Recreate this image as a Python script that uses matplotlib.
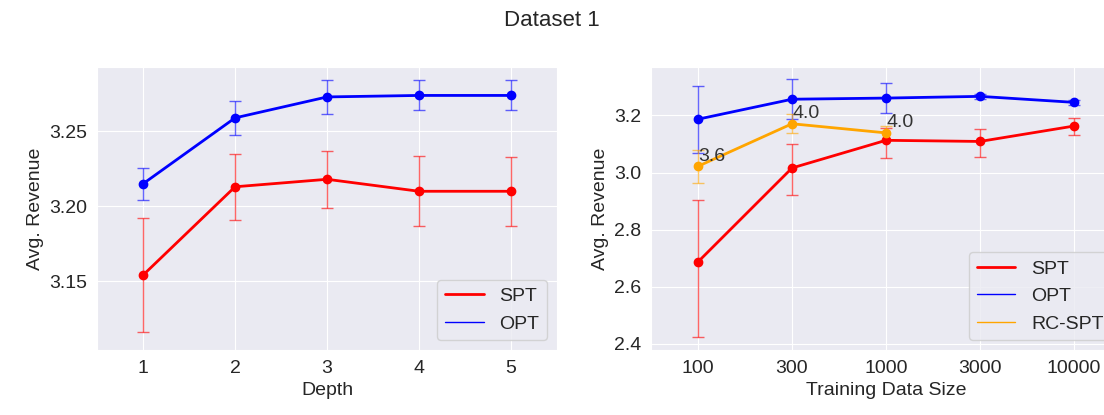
import matplotlib
matplotlib.use("Agg")
import matplotlib.pyplot as plt
import seaborn as sns
import numpy as np
from matplotlib.lines import Line2D

sns.set_style("darkgrid")
plt.rcParams['font.family'] = ['Liberation Sans', 'DejaVu Sans']

# left panel: depth
depth = [1, 2, 3, 4, 5]
spt_depth = [3.154, 3.213, 3.218, 3.210, 3.210]
spt_depth_err = [0.038, 0.022, 0.019, 0.0235, 0.023]
opt_depth = [3.215, 3.259, 3.273, 3.274, 3.274]
opt_depth_err = [0.0105, 0.0115, 0.0115, 0.010, 0.010]

# right panel: training data size
sizes = ["100", "300", "1000", "3000", "10000"]
spt_size = [2.687, 3.016, 3.113, 3.109, 3.163]
spt_size_lo = [0.264, 0.093, 0.063, 0.054, 0.033]
spt_size_hi = [0.216, 0.083, 0.043, 0.045, 0.028]
opt_size = [3.187, 3.257, 3.261, 3.267, 3.246]
opt_size_err = [0.117, 0.071, 0.053, 0.009, 0.008]
rc_size = [3.022, 3.171, 3.139]
rc_size_err = [0.058, 0.034, 0.025]
rc_labels = ["3.6", "4.0", "4.0"]

fs = 14

fig = plt.figure(figsize=(11.04, 4.15), dpi=100)
ax1 = fig.add_axes([0.0879, 0.1566, 0.4167, 0.682])
ax2 = fig.add_axes([0.5897, 0.1566, 0.4257, 0.682])

ax1.errorbar(depth, spt_depth, yerr=spt_depth_err, color='red', lw=2, marker='o', ms=6,
             ecolor=(1, 0, 0, 0.6), elinewidth=1, capsize=4)
ax1.errorbar(depth, opt_depth, yerr=opt_depth_err, color='blue', lw=2, marker='o', ms=6,
             ecolor=(0, 0, 1, 0.6), elinewidth=1, capsize=4)
ax1.set_xlim(0.5, 5.5)
ax1.set_ylim(3.104, 3.293)
ax1.set_xticks(depth)
ax1.set_yticks([3.15, 3.20, 3.25])
ax1.set_yticklabels(["3.15", "3.20", "3.25"])
ax1.set_xlabel("Depth", fontsize=fs)
ax1.set_ylabel("Avg. Revenue", fontsize=fs)
ax1.tick_params(labelsize=fs)
h1 = [Line2D([], [], color='red', lw=2), Line2D([], [], color='blue', lw=1)]
ax1.legend(h1, ["SPT", "OPT"], loc='lower right', fontsize=fs)

xs = np.arange(len(sizes))
ax2.errorbar(xs, spt_size, yerr=[spt_size_lo, spt_size_hi], color='red', lw=2, marker='o', ms=6,
             ecolor=(1, 0, 0, 0.6), elinewidth=1, capsize=4)
ax2.errorbar(xs, opt_size, yerr=opt_size_err, color='blue', lw=2, marker='o', ms=6,
             ecolor=(0, 0, 1, 0.6), elinewidth=1, capsize=4)
ax2.errorbar(xs[:len(rc_size)], rc_size, yerr=rc_size_err, color='orange', lw=2, marker='o', ms=6,
             ecolor=(1, 0.65, 0, 0.6), elinewidth=1, capsize=4)
for i, t in enumerate(rc_labels):
    ax2.annotate(t, (xs[i], rc_size[i]), xytext=(0, 4), textcoords='offset points',
                 fontsize=fs, color='0.2')
ax2.set_xlim(-0.5, 4.5)
ax2.set_ylim(2.378, 3.37)
ax2.set_xticks(xs)
ax2.set_xticklabels(sizes)
ax2.set_yticks([2.4, 2.6, 2.8, 3.0, 3.2])
ax2.set_xlabel("Training Data Size", fontsize=fs)
ax2.set_ylabel("Avg. Revenue", fontsize=fs)
ax2.tick_params(labelsize=fs)
h2 = [Line2D([], [], color='red', lw=2), Line2D([], [], color='blue', lw=1),
      Line2D([], [], color='orange', lw=1)]
ax2.legend(h2, ["SPT", "OPT", "RC-SPT"], loc='lower right', fontsize=fs)

fig.suptitle("Dataset 1", fontsize=16, y=0.975)
fig.savefig("out.png", dpi=100)
